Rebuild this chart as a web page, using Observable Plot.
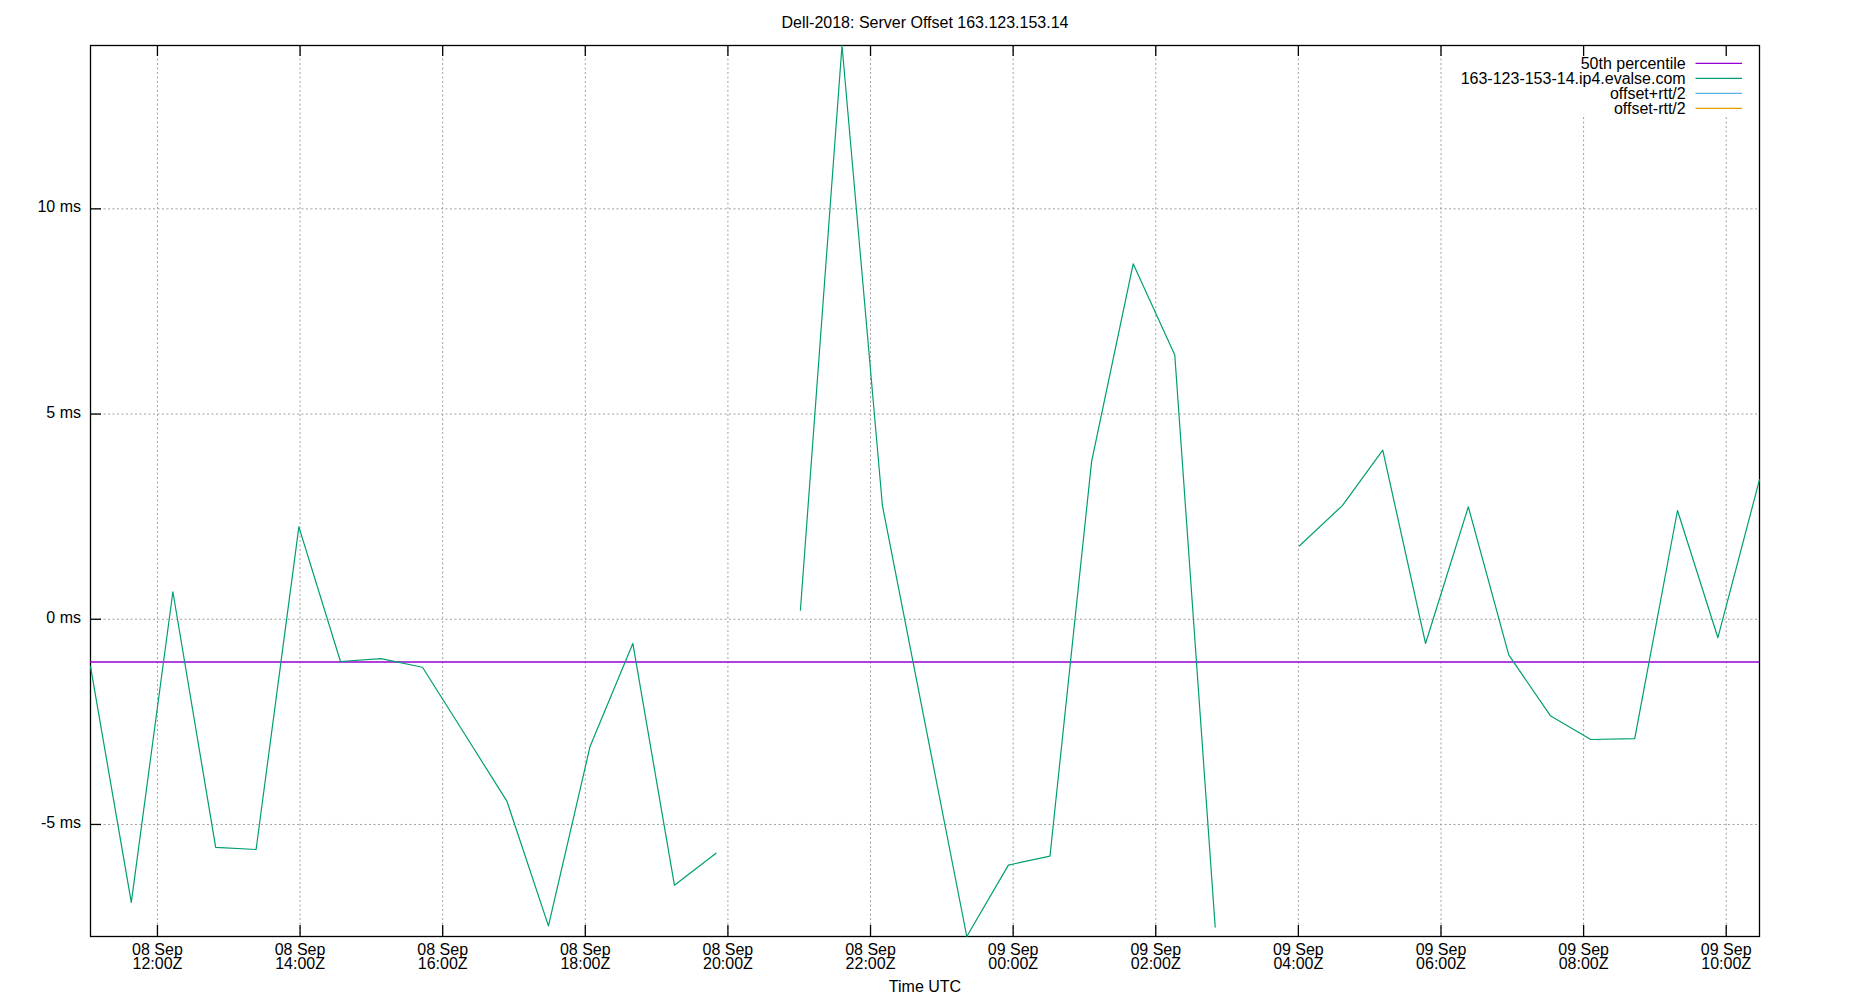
<!DOCTYPE html>
<html>
<head>
<meta charset="utf-8">
<script src="https://cdn.jsdelivr.net/npm/d3@7"></script>
<script src="https://cdn.jsdelivr.net/npm/@observablehq/plot@0.6"></script>
<style>
  html, body { margin: 0; padding: 0; background: #fff; }
  #chart { position: relative; width: 1850px; height: 1000px; }
</style>
</head>
<body>
<div id="chart"></div>
<script>
const title = "Dell-2018: Server Offset 163.123.153.14";
const xLabel = "Time UTC";
const seriesName = "163-123-153-14.ip4.evalse.com";
const legendNames = ["50th percentile", "163-123-153-14.ip4.evalse.com", "offset+rtt/2", "offset-rtt/2"];
const legendColors = ["#9400d3", "#009e73", "#56b4e9", "#e69f00"];

const times = [
  "2018-09-08T11:03:40Z", "2018-09-08T11:38Z", "2018-09-08T12:13Z", "2018-09-08T12:49Z",
  "2018-09-08T13:23Z", "2018-09-08T13:59Z", "2018-09-08T14:34Z", "2018-09-08T15:08Z",
  "2018-09-08T15:43Z", "2018-09-08T16:19Z", "2018-09-08T16:54Z", "2018-09-08T17:29Z",
  "2018-09-08T18:04Z", "2018-09-08T18:40Z", "2018-09-08T19:15Z", "2018-09-08T19:50Z",
  "2018-09-08T20:25Z", "2018-09-08T21:01Z", "2018-09-08T21:36Z", "2018-09-08T22:10Z",
  "2018-09-08T23:21Z", "2018-09-08T23:56Z", "2018-09-09T00:31Z", "2018-09-09T01:06Z",
  "2018-09-09T01:41Z", "2018-09-09T02:16Z", "2018-09-09T02:50Z", "2018-09-09T03:26Z",
  "2018-09-09T04:01Z", "2018-09-09T04:37Z", "2018-09-09T05:11Z", "2018-09-09T05:47Z",
  "2018-09-09T06:23Z", "2018-09-09T06:57Z", "2018-09-09T07:32Z", "2018-09-09T08:06Z",
  "2018-09-09T08:43Z", "2018-09-09T09:19Z", "2018-09-09T09:53Z", "2018-09-09T10:28Z"
];
const offsets = [
  -1.15, -6.90, 0.67, -5.56,
  -5.61, 2.25, -1.03, -0.96,
  -1.17, -2.82, -4.43, -7.47,
  -3.10, -0.59, -6.48, -5.70,
  null, 0.22, 13.98, 2.77,
  -7.73, -5.99, -5.77, 3.84,
  8.66, 6.44, -7.50, null,
  1.79, 2.77, 4.12, -0.59,
  2.74, -0.87, -2.35, -2.93,
  -2.91, 2.65, -0.45, 3.40
];
const percentile50 = -1.04;

const xTicks = [
  "2018-09-08T12:00Z", "2018-09-08T14:00Z", "2018-09-08T16:00Z", "2018-09-08T18:00Z",
  "2018-09-08T20:00Z", "2018-09-08T22:00Z", "2018-09-09T00:00Z", "2018-09-09T02:00Z",
  "2018-09-09T04:00Z", "2018-09-09T06:00Z", "2018-09-09T08:00Z", "2018-09-09T10:00Z"
];
const yTicks = [-5, 0, 5, 10];

const data = times.map((t, i) => ({time: new Date(t), offset: offsets[i]}));
const xTickDates = xTicks.map(t => new Date(t));
const validVals = offsets.filter(v => v != null);

const W = 1850, H = 1000;
const mL = 90, mR = 91, mT = 45, mB = 64;
const pw = W - mL - mR, ph = H - mT - mB;
const tickLen = 11;
const fmt = d3.utcFormat("%d %b\n%H:%MZ");
const gridStyle = {stroke: "#a0a0a0", strokeOpacity: 1, strokeDasharray: "2,2.5", strokeWidth: 1};

const plot = Plot.plot({
  width: W, height: H,
  marginLeft: mL, marginRight: mR, marginTop: mT, marginBottom: mB,
  style: {fontFamily: "'Liberation Sans', Arial, sans-serif", fontSize: "16px", color: "#000", background: "#fff"},
  x: {type: "utc", domain: d3.extent(data, d => d.time), axis: null},
  y: {domain: d3.extent(validVals), axis: null},
  marks: [
    Plot.gridX(xTickDates, gridStyle),
    Plot.gridY(yTicks, gridStyle),
    // opaque key box hides the grid beneath the legend
    Plot.frame({fill: "#fff", stroke: null, insetLeft: 1355, insetRight: 1, insetTop: 1, insetBottom: ph - 69}),
    Plot.frame({stroke: "#000", strokeWidth: 1.3}),
    Plot.tickX(xTickDates, {x: d => d, stroke: "#000", strokeWidth: 1.3, insetTop: ph - tickLen}),
    Plot.tickX(xTickDates, {x: d => d, stroke: "#000", strokeWidth: 1.3, insetBottom: ph - tickLen}),
    Plot.tickY(yTicks, {y: d => d, stroke: "#000", strokeWidth: 1.3, insetRight: pw - tickLen}),
    Plot.axisX({ticks: xTickDates, tickSize: 0, tickPadding: 9, tickFormat: fmt, fontSize: 16, lineHeight: 0.875, label: null}),
    Plot.axisY({ticks: yTicks, tickSize: 0, tickPadding: 9.5, dy: -1.5, tickFormat: d => `${d} ms`, fontSize: 16, label: null}),
    Plot.ruleY([percentile50], {y: d => d, stroke: legendColors[0], strokeWidth: 1.4}),
    Plot.line(data, {x: "time", y: "offset", stroke: legendColors[1], strokeWidth: 1.2}),
    Plot.text([xLabel], {frameAnchor: "bottom", dy: 55.5, lineAnchor: "bottom", fontSize: 16}),
    Plot.text([title], {frameAnchor: "top", dy: -17.7, lineAnchor: "bottom", fontSize: 16})
  ]
});

document.getElementById("chart").appendChild(plot);

// legend (key) in the top-right corner
const svg = d3.select(plot);
const key = svg.append("g").attr("class", "key");
legendNames.forEach((name, i) => {
  const cy = 63.3 + i * 15;
  key.append("text")
    .attr("x", 1685.7).attr("y", cy).attr("dy", "0.34em")
    .attr("text-anchor", "end")
    .attr("font-size", 16)
    .attr("fill", "#000")
    .text(name);
  key.append("line")
    .attr("x1", 1695.5).attr("x2", 1742).attr("y1", cy).attr("y2", cy)
    .attr("stroke", legendColors[i]).attr("stroke-width", 1.3);
});
</script>
</body>
</html>
